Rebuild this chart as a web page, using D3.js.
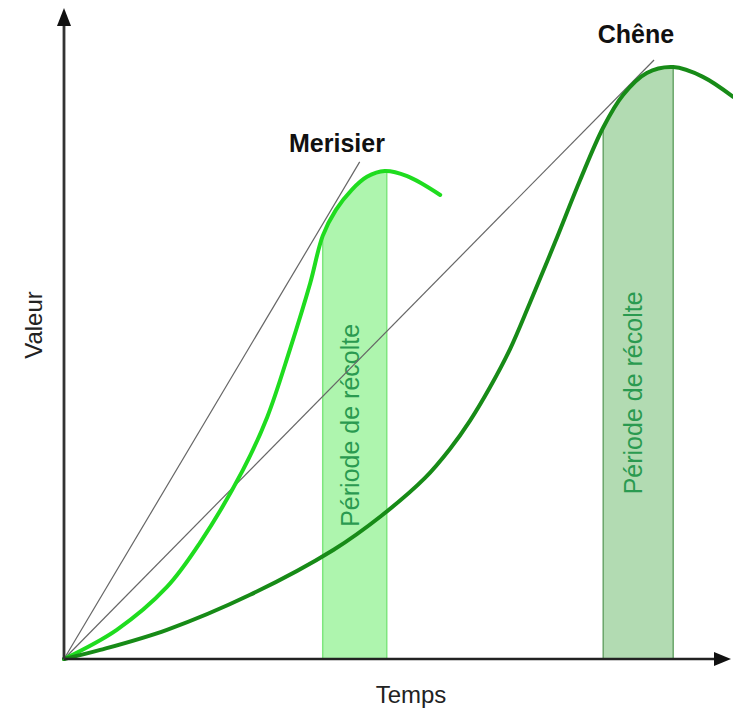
<!DOCTYPE html>
<html>
<head>
<meta charset="utf-8">
<script src="https://cdn.jsdelivr.net/npm/d3@7"></script>
<style>
  body { margin: 0; background: #fff; }
  text { font-family: "Liberation Sans", Arial, Helvetica, sans-serif; }
</style>
</head>
<body>
<svg id="chart"></svg>
<script>
// growth curves (time 0-100, value 0-100)
const merisierTime  = [0, 8.0, 15.6, 20.6, 27.1, 30.8, 34.2, 37.3, 39.2, 41.2, 43.6, 45.9, 48.6, 52.0, 57.0];
const merisierValue = [0, 4.5, 11.1, 17.9, 29.1, 37.3, 47.6, 57.9, 65.2, 69.2, 72.3, 74.3, 75.2, 74.4, 71.5];

const cheneTime  = [0, 5.5, 15.6, 28.2, 40.8, 48.0, 54.7, 58.5, 61.5, 64.5, 67.6, 70.6, 74.4, 78.2, 81.7, 84.7, 88.3, 92.3, 96.8, 101.4];
const cheneValue = [0, 1.4, 4.5, 9.9, 16.8, 22.0, 27.9, 32.4, 36.7, 41.8, 47.8, 54.9, 64.2, 73.8, 81.9, 86.9, 90.3, 91.2, 89.7, 86.6];

// tangents from the origin
const merisierTangentTime  = [0, 44.8];
const merisierTangentValue = [0, 76.6];
const cheneTangentTime  = [0, 89.4];
const cheneTangentValue = [0, 92.3];

// harvest periods
const merisierHarvest = [39.2, 48.9];
const cheneHarvest = [81.7, 92.3];

const bandLabel = "Période de récolte";
const xTitle = "Temps";
const yTitle = "Valeur";

const width = 733, height = 712;

const svg = d3.select("#chart")
    .attr("width", width)
    .attr("height", height);

const x = d3.scaleLinear().domain([0, 100]).range([64, 724]);
const y = d3.scaleLinear().domain([0, 100]).range([659, 10]);

const zip = (ts, vs) => ts.map((t, i) => [t, vs[i]]);
const merisier = zip(merisierTime, merisierValue);
const chene = zip(cheneTime, cheneValue);

const curve = d3.curveCatmullRom.alpha(0.5);

const line = d3.line()
    .x(d => x(d[0]))
    .y(d => y(d[1]))
    .curve(curve);

const area = d3.area()
    .x(d => x(d[0]))
    .y0(y(0))
    .y1(d => y(d[1]))
    .curve(curve);

// clip the bands to the area under each curve
const defs = svg.append("defs");
defs.append("clipPath").attr("id", "clip-merisier")
    .append("path").attr("d", area(merisier));
defs.append("clipPath").attr("id", "clip-chene")
    .append("path").attr("d", area(chene));

const bands = [
    { range: merisierHarvest, clip: "clip-merisier", fill: "#aef5ae", stroke: "#7ee67e" },
    { range: cheneHarvest, clip: "clip-chene", fill: "#b2dbb2", stroke: "#6aa56a" }
];

svg.selectAll("rect.band")
    .data(bands)
    .enter()
    .append("rect")
    .attr("class", "band")
    .attr("x", d => x(d.range[0]))
    .attr("width", d => x(d.range[1]) - x(d.range[0]))
    .attr("y", y(100))
    .attr("height", y(0) - y(100))
    .attr("fill", d => d.fill)
    .attr("stroke", d => d.stroke)
    .attr("stroke-width", 1.5)
    .attr("clip-path", d => `url(#${d.clip})`);

// band labels
svg.selectAll("text.band-label")
    .data([{ cx: d3.mean(merisierHarvest) + 0.7, cy: 36.0 }, { cx: d3.mean(cheneHarvest) + 0.5, cy: 41.0 }])
    .enter()
    .append("text")
    .attr("class", "band-label")
    .attr("transform", d => `translate(${x(d.cx)},${y(d.cy)}) rotate(-90)`)
    .attr("text-anchor", "middle")
    .attr("font-size", 25)
    .attr("fill", "#2a9a50")
    .text(bandLabel);

// tangents
svg.selectAll("path.tangent")
    .data([zip(merisierTangentTime, merisierTangentValue), zip(cheneTangentTime, cheneTangentValue)])
    .enter()
    .append("path")
    .attr("class", "tangent")
    .attr("d", d3.line().x(d => x(d[0])).y(d => y(d[1])))
    .attr("fill", "none")
    .attr("stroke", "#666")
    .attr("stroke-width", 1.2);

// growth curves
svg.append("path")
    .attr("d", line(merisier))
    .attr("fill", "none")
    .attr("stroke", "#1fdc1f")
    .attr("stroke-width", 4)
    .attr("stroke-linecap", "round");

svg.append("path")
    .attr("d", line(chene))
    .attr("fill", "none")
    .attr("stroke", "#178b17")
    .attr("stroke-width", 4)
    .attr("stroke-linecap", "round");

// axes, no ticks, plus arrow heads
const xAxisScale = x.copy().range([x(0), 716]);
const yAxisScale = y.copy().range([y(0), 24]);

svg.append("g")
    .attr("transform", `translate(0,${y(0)})`)
    .call(d3.axisBottom(xAxisScale).ticks(0).tickSizeOuter(0).offset(0))
    .select(".domain")
    .attr("stroke", "#222")
    .attr("stroke-width", 2.5);

svg.append("g")
    .attr("transform", `translate(${x(0)},0)`)
    .call(d3.axisLeft(yAxisScale).ticks(0).tickSizeOuter(0).offset(0))
    .select(".domain")
    .attr("stroke", "#333")
    .attr("stroke-width", 2.8);

svg.append("path")
    .attr("d", `M${xAxisScale.range()[1] - 2},${y(0) - 7}L${xAxisScale.range()[1] + 15},${y(0)}L${xAxisScale.range()[1] - 2},${y(0) + 7}Z`)
    .attr("fill", "#111");

svg.append("path")
    .attr("d", `M${x(0) - 7},${yAxisScale.range()[1] + 2}L${x(0)},${yAxisScale.range()[1] - 16}L${x(0) + 7},${yAxisScale.range()[1] + 2}Z`)
    .attr("fill", "#111");

// titles
svg.append("text")
    .attr("x", 411).attr("y", 703)
    .attr("text-anchor", "middle")
    .attr("font-size", 24)
    .attr("fill", "#222")
    .text(xTitle);

svg.append("text")
    .attr("transform", "translate(42,325) rotate(-90)")
    .attr("text-anchor", "middle")
    .attr("font-size", 24)
    .attr("fill", "#222")
    .text(yTitle);

svg.append("text")
    .attr("x", 337).attr("y", 152)
    .attr("text-anchor", "middle")
    .attr("font-size", 25)
    .attr("font-weight", "bold")
    .attr("fill", "#111")
    .text("Merisier");

svg.append("text")
    .attr("x", 636).attr("y", 43)
    .attr("text-anchor", "middle")
    .attr("font-size", 25)
    .attr("font-weight", "bold")
    .attr("fill", "#111")
    .text("Chêne");
</script>
</body>
</html>
